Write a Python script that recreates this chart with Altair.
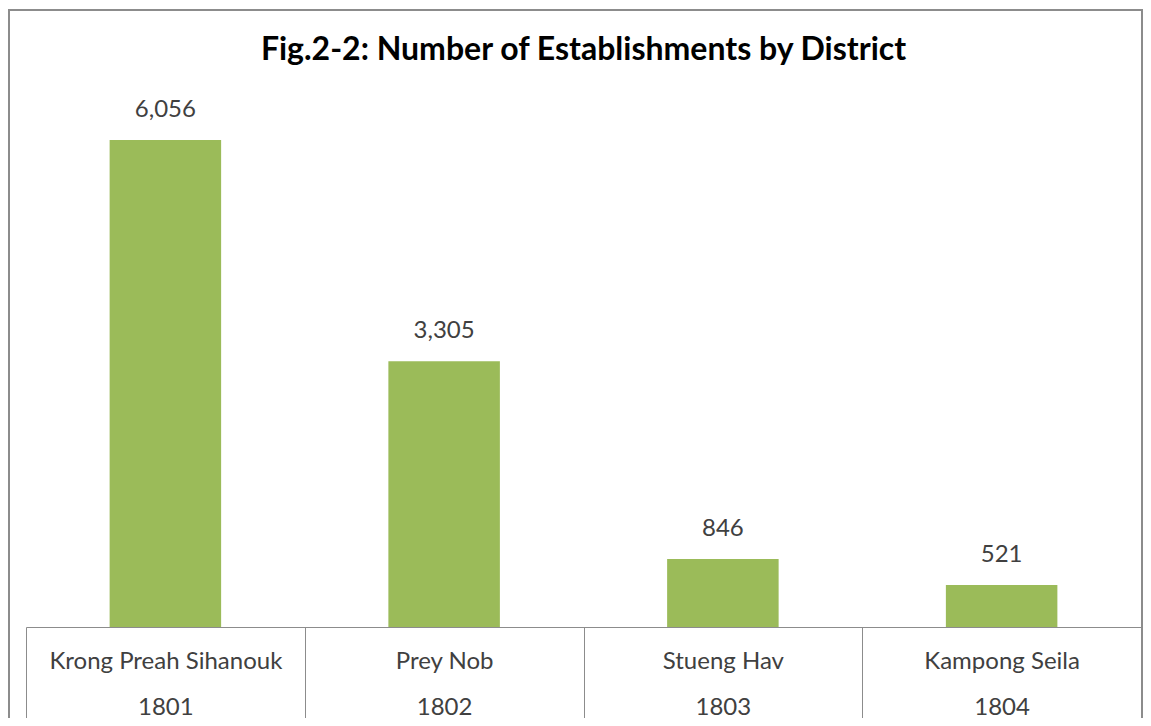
import altair as alt
import pandas as pd

districts = ["Krong Preah Sihanouk", "Prey Nob", "Stueng Hav", "Kampong Seila"]
codes = ["1801", "1802", "1803", "1804"]
establishments = [6056, 3305, 846, 521]

df = pd.DataFrame({
    "district": districts,
    "code": codes,
    "value": establishments,
})
df["cat"] = [f"{d}|{c}" for d, c in zip(districts, codes)]

W, H = 1115, 563
FONT = "Lato"
GRAY = "#8c8c8c"

x_enc = alt.X(
    "cat:N",
    sort=None,
    scale=alt.Scale(paddingInner=0, paddingOuter=0),
    axis=alt.Axis(
        title=None,
        labelExpr="datum.value ? split(datum.value, '|') : ''",
        labelFont=FONT,
        labelFontSize=24,
        labelColor="#404040",
        labelLineHeight=46,
        labelPadding=-78,
        labelAngle=0,
        labelLimit=0,
        domainColor=GRAY,
        domainWidth=1,
        tickColor=GRAY,
        tickWidth=1,
        tickSize=100,
        tickBand="extent",
        grid=False,
    ),
)
y_enc = alt.Y("value:Q", scale=alt.Scale(domain=[0, 7000], nice=False), axis=None)

base = alt.Chart(df)

bars = base.mark_bar(color="#9BBB59", width=alt.RelativeBandSize(0.4)).encode(x=x_enc, y=y_enc)

labels = base.mark_text(
    font=FONT, fontSize=24, color="#404040", baseline="middle", dy=-30
).encode(x=x_enc, y=y_enc, text=alt.Text("value:Q", format=","))

border = alt.Chart(pd.DataFrame({"k": [0]})).mark_rect(
    filled=False, stroke=GRAY, strokeWidth=2
).encode(
    x=alt.value(-17), x2=alt.value(W + 1), y=alt.value(-54), y2=alt.value(H + 300)
)

chart = alt.layer(border, bars, labels).properties(
    width=W,
    height=H,
    autosize="none",
    padding={"left": 18, "top": 56, "right": 2, "bottom": 91},
    title=alt.TitleParams(
        "Fig.2-2: Number of Establishments by District",
        font=FONT,
        fontSize=32,
        fontWeight="bold",
        color="#000000",
        anchor="middle",
        frame="group",
        baseline="middle",
        offset=-73,
    ),
).configure_view(stroke=None)

chart.save("out.html", embed_options={"renderer": "svg", "actions": False})
